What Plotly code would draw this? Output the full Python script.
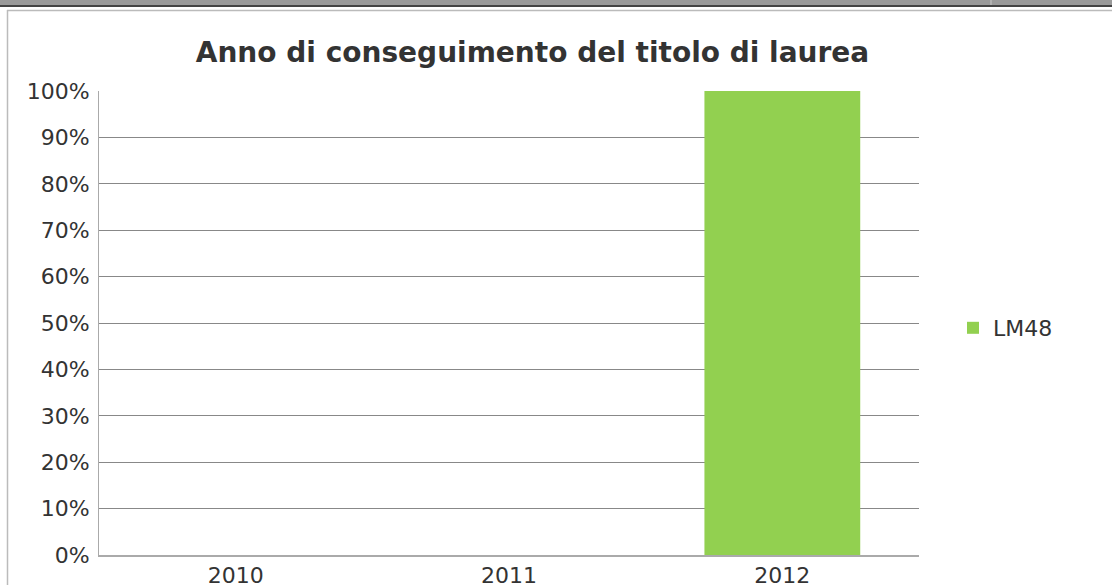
import plotly.graph_objects as go

categories = ["2010", "2011", "2012"]
series_name = "LM48"
values = [0.0, 0.0, 1.0]
y_ticks = [0, 0.1, 0.2, 0.3, 0.4, 0.5, 0.6, 0.7, 0.8, 0.9, 1.0]

W, H = 1112, 585
L, R, T, B = 99, 919, 91, 555

fig = go.Figure()
fig.add_trace(go.Bar(
    x=categories, y=values, name=series_name,
    marker=dict(color="#92D050", line=dict(width=0)),
))

def px(x):
    return (x - L) / (R - L)

def py(y):
    return (B - y) / (B - T)

shapes = [
    # top strip
    dict(type="rect", xref="paper", yref="paper", x0=px(0), x1=px(W), y0=py(0), y1=py(5),
         fillcolor="#9a9a9a", line=dict(width=0), layer="above"),
    dict(type="rect", xref="paper", yref="paper", x0=px(0), x1=px(W), y0=py(5), y1=py(7),
         fillcolor="#444444", line=dict(width=0), layer="above"),
    dict(type="line", xref="paper", yref="paper", x0=px(991), x1=px(991), y0=py(0), y1=py(5),
         line=dict(color="#c8c8c8", width=1), layer="above"),
    # chart frame
    dict(type="line", xref="paper", yref="paper", x0=px(7), x1=px(W), y0=py(10.5), y1=py(10.5),
         line=dict(color="#bbbbbb", width=1.5), layer="above"),
    dict(type="line", xref="paper", yref="paper", x0=px(7.5), x1=px(7.5), y0=py(10), y1=py(H),
         line=dict(color="#bbbbbb", width=1.5), layer="above"),
]

fig.update_layout(
    width=W, height=H,
    margin=dict(l=L, r=W - R, t=T, b=H - B, autoexpand=False),
    paper_bgcolor="white", plot_bgcolor="white",
    font=dict(family="DejaVu Sans", color="#333333"),
    title=dict(text="<b>Anno di conseguimento del titolo di laurea</b>",
               x=532.5 / W, xanchor="center", y=1 - 52 / H, yanchor="middle",
               font=dict(size=28, color="#333333", family="DejaVu Sans")),
    bargap=0.43,
    showlegend=True,
    legend=dict(x=px(953), xanchor="left", y=py(328), yanchor="middle",
                font=dict(size=22, color="#333333"), bgcolor="rgba(0,0,0,0)",
                itemwidth=30),
    xaxis=dict(showline=True, linecolor="#aaaaaa", linewidth=2, showgrid=False,
               ticks="", ticklabelstandoff=0, tickfont=dict(size=22, color="#333333"),
               fixedrange=True),
    yaxis=dict(range=[0, 1], tickvals=y_ticks, tickformat=".0%",
               showline=True, linecolor="#aaaaaa", linewidth=1,
               showgrid=True, gridcolor="#888888", gridwidth=1,
               zeroline=False, ticks="", ticklabelstandoff=4,
               tickfont=dict(size=22, color="#333333")),
    shapes=shapes,
)

fig.write_html("out.html",
               config={"displayModeBar": False},
               post_script="document.body.style.margin='0';document.body.style.padding='0';document.body.style.overflow='hidden';")
